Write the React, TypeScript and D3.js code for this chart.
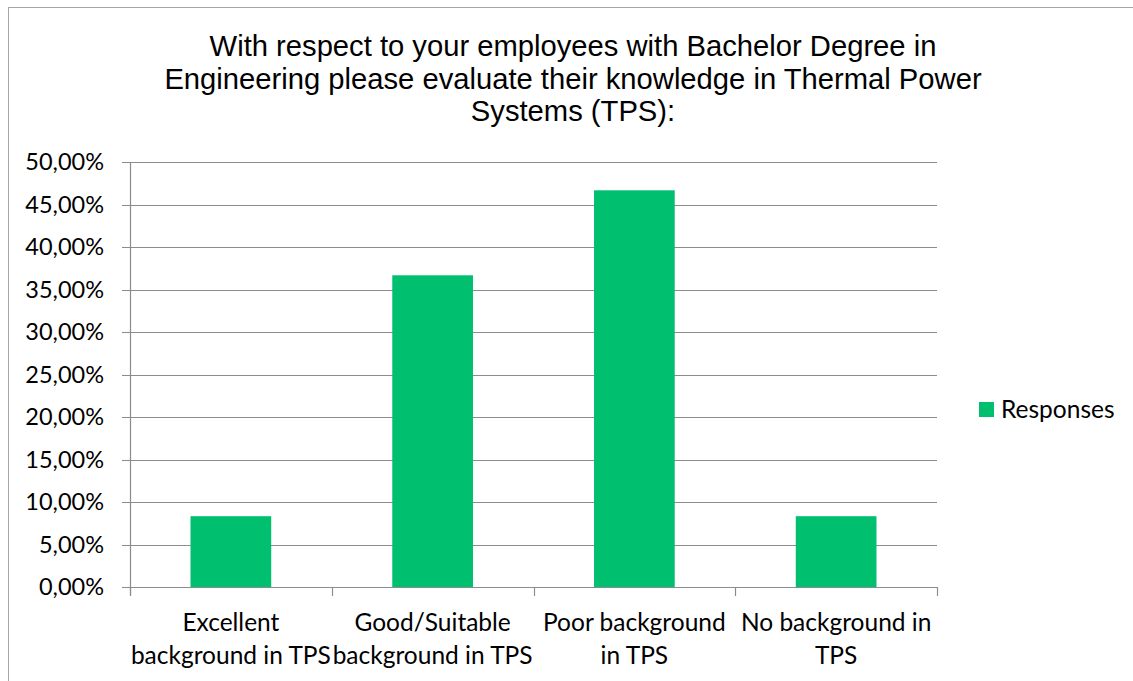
import React from "react";
import * as d3 from "d3";

const categories = [
  "Excellent background in TPS",
  "Good/Suitable background in TPS",
  "Poor background in TPS",
  "No background in TPS",
];
const categoryLines = [
  ["Excellent", "background in TPS"],
  ["Good/Suitable", "background in TPS"],
  ["Poor background", "in TPS"],
  ["No background in", "TPS"],
];
const responses = [8.33, 36.67, 46.67, 8.33];
const yTicks = [0, 5, 10, 15, 20, 25, 30, 35, 40, 45, 50];
const titleLines = [
  "With respect to your employees with Bachelor Degree in",
  "Engineering please evaluate their knowledge in Thermal Power",
  "Systems (TPS):",
];
const seriesName = "Responses";

const W = 1133;
const H = 681;
const plot = { left: 130, right: 937, top: 162, bottom: 587 };
const barColor = "#00BF6F";
const gridColor = "#8c8c8c";
const labelFont = "Lato, 'Open Sans', sans-serif";

export default function App() {
  const x = d3
    .scaleBand<string>()
    .domain(categories)
    .range([plot.left, plot.right])
    .paddingInner(0.6)
    .paddingOuter(0.3);
  const y = d3.scaleLinear().domain([0, 50]).range([plot.bottom, plot.top]);
  const fmt = (v: number) => v.toFixed(2).replace(".", ",") + "%";
  const boundaries = d3
    .range(categories.length + 1)
    .map((i) => plot.left + i * ((plot.right - plot.left) / categories.length));

  return (
    <svg
      width={W}
      height={H}
      style={{ position: "absolute", left: 0, top: 0, background: "#fff" }}
    >
      <rect x={8.5} y={7.5} width={W + 10} height={H + 10} fill="#fff" stroke="#a6a6a6" strokeWidth={1} />
      {titleLines.map((t, i) => (
        <text
          key={i}
          x={573}
          y={56 + i * 32.5}
          textAnchor="middle"
          fontFamily="'Liberation Sans', Arial, sans-serif"
          fontSize={29.2}
          fill="#000"
        >
          {t}
        </text>
      ))}
      {yTicks.map((t) => (
        <g key={t}>
          <line
            x1={plot.left - 8}
            x2={plot.right}
            y1={Math.round(y(t)) + 0.5}
            y2={Math.round(y(t)) + 0.5}
            stroke={gridColor}
            strokeWidth={1.2}
          />
          <text
            x={104}
            y={y(t) + 8}
            textAnchor="end"
            fontFamily={labelFont}
            fontSize={23.5}
            fill="#000"
          >
            {fmt(t)}
          </text>
        </g>
      ))}
      <line x1={plot.left + 0.5} x2={plot.left + 0.5} y1={plot.top} y2={plot.bottom + 8} stroke={gridColor} strokeWidth={1.2} />
      {boundaries.map((bx, i) => (
        <line key={i} x1={Math.round(bx) + 0.5} x2={Math.round(bx) + 0.5} y1={plot.bottom} y2={plot.bottom + 9} stroke={gridColor} strokeWidth={1.2} />
      ))}
      {categories.map((c, i) => (
        <rect
          key={c}
          x={x(c)!}
          y={y(responses[i])}
          width={x.bandwidth()}
          height={y(0) - y(responses[i])}
          fill={barColor}
        />
      ))}
      {categories.map((c, i) => (
        <text
          key={c}
          x={x(c)! + x.bandwidth() / 2}
          textAnchor="middle"
          fontFamily={labelFont}
          fontSize={24.5}
          fill="#000"
        >
          {categoryLines[i].map((l, j) => (
            <tspan key={j} x={x(c)! + x.bandwidth() / 2} y={631 + j * 33}>
              {l}
            </tspan>
          ))}
        </text>
      ))}
      <rect x={979} y={402} width={15} height={15} fill={barColor} />
      <text x={1001} y={418} fontFamily={labelFont} fontSize={24.5} fill="#000">
        {seriesName}
      </text>
    </svg>
  );
}
